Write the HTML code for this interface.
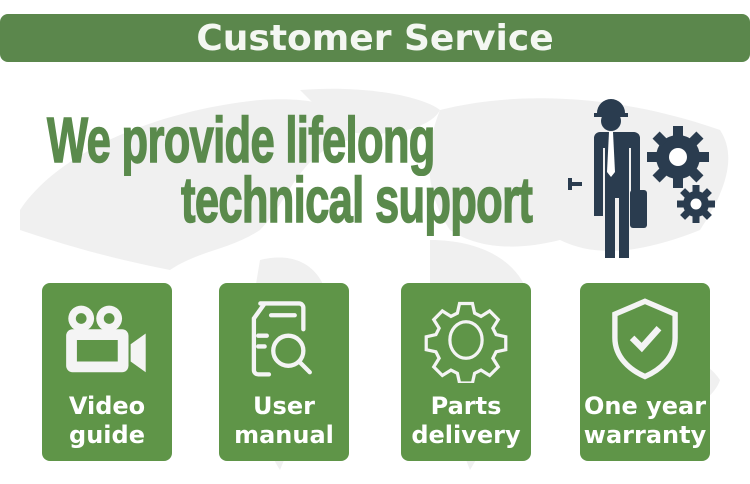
<!DOCTYPE html>
<html><head><style>
html,body{margin:0;padding:0;background:#fff;}
#c{position:relative;width:750px;height:484px;overflow:hidden;font-family:"DejaVu Sans","Liberation Sans",sans-serif;}
.hdr{position:absolute;left:0;top:14px;width:750px;height:48px;background:#5b874c;border-radius:8px;color:#f4f7f2;font-weight:bold;font-size:36px;text-align:center;line-height:50px;}
.big{position:absolute;color:#5a8a4c;font-family:"Liberation Sans",sans-serif;font-weight:bold;font-size:64px;transform-origin:0 0;transform:scaleX(0.68);white-space:nowrap;line-height:1;letter-spacing:-1px;-webkit-text-stroke:1.5px #5a8a4c;}
.box{position:absolute;top:283px;width:130px;height:178px;background:#5f9548;border-radius:8px;color:#fff;font-weight:bold;font-size:24px;text-align:center;line-height:29px;}
.box .t{position:absolute;left:0;right:0;top:109px;}
.box svg{position:absolute;left:22px;top:14px;}
</style></head><body><div id="c">
<svg width="750" height="484" style="position:absolute;left:0;top:0">
<g fill="#f0f0f0">
<path d="M20 210 C60 150 160 110 260 100 C330 95 360 115 350 140 C300 150 290 200 260 230 C230 250 200 250 170 270 C120 260 80 250 20 230Z"/>
<path d="M300 90 C360 85 420 95 440 110 C430 130 380 140 340 130Z"/>
<path d="M440 110 C520 90 620 95 720 130 C740 160 720 200 700 230 C650 250 600 260 560 240 C520 250 480 250 450 230 C430 200 420 160 440 110Z"/>
<path d="M260 260 C300 250 330 270 330 320 C320 380 300 420 280 470 C260 440 250 380 250 320Z"/>
<path d="M430 240 C480 240 520 260 530 300 C530 360 500 420 470 470 C450 420 440 350 430 300Z"/>
<path d="M600 360 C650 340 700 350 720 380 C710 410 660 420 620 410Z"/>
</g>
<g fill="#2a3c4f">
<path d="M597 113 a14 14 0 0 1 28 0 h3 v4 h-34 v-4z"/>
<circle cx="611" cy="121" r="10"/>
<path d="M588 132 h46 a6 6 0 0 1 6 6 v78 h-9 v-68 h-2 v110 h-10 v-60 h-4 v60 h-10 v-110 h-2 v68 h-9 v-78 a6 6 0 0 1 6-6z"/>
<rect x="630" y="190" width="17" height="38" rx="3"/>
<path d="M570 182 h12 v4 h-12z M568 178 h4 v12 h-4z"/>
</g>
<path d="M609 132 h4 l2 40 -4 5 -4-5z" fill="#fff"/>
<g fill="#2a3c4f" transform="translate(678 157)">
<circle r="22"/>
<g id="t"><rect x="-5" y="-31" width="10" height="12"/></g>
<use href="#t" transform="rotate(45)"/><use href="#t" transform="rotate(90)"/><use href="#t" transform="rotate(135)"/><use href="#t" transform="rotate(180)"/><use href="#t" transform="rotate(225)"/><use href="#t" transform="rotate(270)"/><use href="#t" transform="rotate(315)"/>
<circle r="9" fill="#fff"/>
</g>
<g fill="#2a3c4f" transform="translate(696 204)">
<circle r="13"/>
<g id="t2"><rect x="-3.5" y="-19" width="7" height="8"/></g>
<use href="#t2" transform="rotate(45)"/><use href="#t2" transform="rotate(90)"/><use href="#t2" transform="rotate(135)"/><use href="#t2" transform="rotate(180)"/><use href="#t2" transform="rotate(225)"/><use href="#t2" transform="rotate(270)"/><use href="#t2" transform="rotate(315)"/>
<circle r="5.5" fill="#fff"/>
</g>
</svg>
<div class="hdr">Customer Service</div>
<div class="big" style="left:47px;top:108px">We provide lifelong</div>
<div class="big" style="left:181px;top:168px">technical support</div>

<div class="box" style="left:42px">
<svg width="86" height="86" viewBox="0 0 80 80" fill="#f4f4f4"><circle cx="16" cy="20" r="12"/><circle cx="42" cy="20" r="12"/><circle cx="16" cy="20" r="5" fill="#5f9548"/><circle cx="42" cy="20" r="5" fill="#5f9548"/><rect x="2" y="30" width="58" height="40" rx="6"/><rect x="12" y="40" width="38" height="20" fill="#5f9548"/><path d="M62 44 l14-10 v36 l-14-10z"/></svg>
<div class="t">Video<br>guide</div></div>
<div class="box" style="left:219px">
<svg width="86" height="86" viewBox="0 0 80 80" fill="none" stroke="#f4f4f4" stroke-width="4" stroke-linecap="round"><path d="M18 6 h36 a4 4 0 0 1 4 4 v20 M26 72 h-10 a4 4 0 0 1-4-4 v-48 l10-14"/><path d="M28 17 h22 M16 36 h8 M16 46 h6"/><circle cx="44" cy="50" r="14"/><path d="M54 60 l10 10"/></svg>
<div class="t">User<br>manual</div></div>
<div class="box" style="left:401px">
<svg width="86" height="86" viewBox="0 0 80 80" fill="none" stroke="#f4f4f4" stroke-width="3"><path d="M34 6 h12 l2 9 6 3 8-5 8 8 -5 8 3 6 9 2 v12 l-9 2 -3 6 5 8 -8 8 -8-5 -6 3 -2 9 h-12 l-2-9 -6-3 -8 5 -8-8 5-8 -3-6 -9-2 v-12 l9-2 3-6 -5-8 8-8 8 5 6-3z"/><ellipse cx="40" cy="40" rx="15" ry="17"/></svg>
<div class="t">Parts<br>delivery</div></div>
<div class="box" style="left:580px">
<svg width="86" height="86" viewBox="0 0 80 80"><path d="M40 4 l28 12 v22 c0 18-14 30-28 36 c-14-6-28-18-28-36 v-22z" fill="none" stroke="#f4f4f4" stroke-width="5"/><path d="M28 38 l9 9 16-18" fill="none" stroke="#f4f4f4" stroke-width="6"/></svg>
<div class="t">One year<br>warranty</div></div>
</div></body></html>
